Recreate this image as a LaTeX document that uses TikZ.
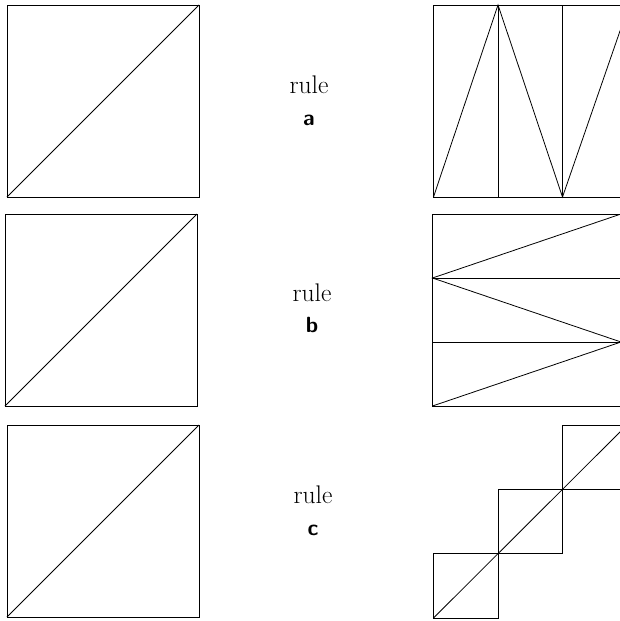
\documentclass[tikz,border=0pt]{standalone}
\begin{document}
\begin{tikzpicture}[x=1pt,y=-1pt,line width=0.8pt,
  lbl/.style={font=\fontsize{25.5}{30}\selectfont, inner sep=0pt, anchor=base},
  lblb/.style={font=\fontsize{22}{26}\selectfont\sffamily\bfseries, inner sep=0pt, anchor=base}]
\useasboundingbox (0,0) rectangle (620,621);
\clip (0,0) rectangle (620,621);
% left squares
\draw (7,5) rectangle (199,197);
\draw (7,197) -- (199,5);
\draw (5,214) rectangle (197,406);
\draw (5,406) -- (197,214);
\draw (7,425) rectangle (199,617);
\draw (7,617) -- (199,425);
% labels
\node[lbl] (r1) at (309,93) {rule};
\node[lblb] (a) at (309,125) {a};
\node[lbl] (r2) at (312,301) {rule};
\node[lblb] (b) at (312,332) {b};
\node[lbl] (r3) at (313,503) {rule};
\node[lblb] (c) at (313,535) {c};
% right row 1
\draw (433.5,5) rectangle (629,197);
\draw (498,5) -- (498,197);
\draw (562.5,5) -- (562.5,197);
\draw (433.5,197) -- (498,5) -- (562.5,197) -- (629,5);
% right row 2
\draw (432.5,214) rectangle (621,406);
\draw (432.5,278) -- (621,278);
\draw (432.5,342) -- (621,342);
\draw (432.5,406) -- (621,342) -- (432.5,278) -- (621,214);
% right row 3
\draw (433.5,553.5) rectangle (498,618);
\draw (498,489) rectangle (562.5,553.5);
\draw (562.5,425) rectangle (627,489);
\draw (433.5,618) -- (627,425);
\end{tikzpicture}
\end{document}
